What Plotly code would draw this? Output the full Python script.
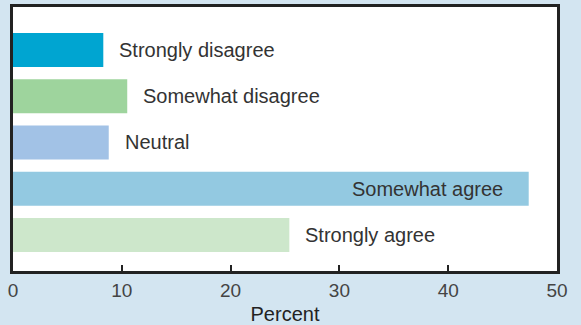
import plotly.graph_objects as go

categories = ["Strongly disagree", "Somewhat disagree", "Neutral", "Somewhat agree", "Strongly agree"]
values = [8.3, 10.5, 8.8, 47.4, 25.4]
colors = ["#00a5d1", "#9ed49d", "#a2c2e6", "#93c9e1", "#cde7cb"]
tick_vals = [0, 10, 20, 30, 40, 50]

ypos = list(range(len(categories) - 1, -1, -1))

fig = go.Figure()
fig.add_trace(go.Bar(
    x=values, y=ypos, orientation="h",
    marker=dict(color=colors, line=dict(width=0)),
    width=0.735, hoverinfo="skip",
))

for cat, v, y in zip(categories, values, ypos):
    inside = v > 40
    fig.add_annotation(
        x=v, y=y, text=cat, showarrow=False,
        xanchor="right" if inside else "left",
        xshift=-24 if inside else 14,
        font=dict(size=20, color="#333333", family="Liberation Sans, Arial, sans-serif"),
    )

fig.update_layout(
    width=581, height=325,
    margin=dict(l=13, r=24, t=7, b=54),
    paper_bgcolor="#d3e5f1",
    plot_bgcolor="#ffffff",
    showlegend=False,
    font=dict(family="Liberation Sans, Arial, sans-serif", color="#333333", size=20),
    xaxis=dict(
        range=[0, 50], tickvals=tick_vals, ticks="inside", ticklen=6, tickwidth=2,
        tickcolor="#222222", showline=True, linecolor="#222222", linewidth=2.5,
        mirror=True, showgrid=False, zeroline=False, automargin=False,
        tickfont=dict(size=19, color="#444444"), ticklabelstandoff=0,
        title=dict(text="Percent", font=dict(size=20, color="#222222"), standoff=14),
    ),
    yaxis=dict(
        range=[-0.78, 4.93], showticklabels=False, ticks="", showgrid=False,
        zeroline=False, showline=True, linecolor="#222222", linewidth=2.5, mirror=True,
        automargin=False,
    ),
)

fig.write_html("out.html")
